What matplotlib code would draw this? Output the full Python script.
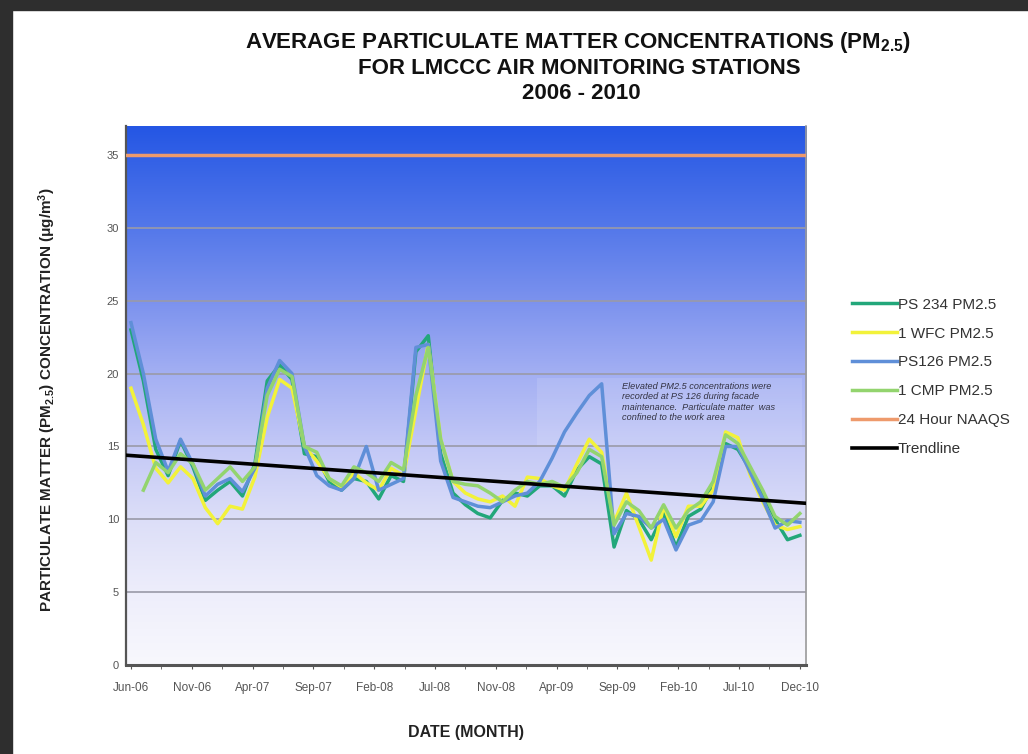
import numpy as np
import matplotlib
matplotlib.use('Agg')
import matplotlib.pyplot as plt
from matplotlib import font_manager
from matplotlib.colors import LinearSegmentedColormap
from matplotlib.patches import Rectangle

# monthly averages, Jun-06 .. Dec-10 (55 months)
ps234 = [23.0, 19.5, 14.8, 13.0, 15.4, 13.6, 11.3, 12.0, 12.6, 11.6,
         13.8, 19.5, 20.6, 19.6, 14.5, 14.3, 12.6, 12.0, 12.8, 12.6,
         11.4, 13.0, 12.6, 21.5, 22.6, 14.5, 11.8, 11.0, 10.4, 10.1,
         11.3, 11.8, 11.6, 12.3, 12.3, 11.6, 13.4, 14.3, 13.8, 8.1,
         10.6, 10.0, 8.6, 10.4, 8.1, 10.2, 10.7, 12.3, 15.2, 14.8,
         13.4, 11.8, 10.0, 8.6, 8.9]
wfc1 = [19.0, 16.5, 13.5, 12.5, 13.6, 12.8, 10.8, 9.7, 10.9, 10.7,
        12.9, 17.0, 19.6, 19.0, 15.0, 14.0, 12.8, 12.2, 13.2, 12.5,
        12.0, 13.5, 13.0, 17.5, 22.0, 15.5, 12.6, 11.8, 11.4, 11.2,
        11.6, 10.9, 12.9, 12.8, 12.3, 12.0, 13.8, 15.5, 14.6, 9.8,
        11.8, 9.5, 7.2, 10.9, 8.8, 10.9, 10.9, 12.0, 16.0, 15.6,
        13.0, 11.2, 9.6, 9.3, 9.5]
ps126 = [23.5, 20.0, 15.5, 13.3, 15.5, 13.8, 11.6, 12.4, 12.8, 11.9,
         13.5, 19.0, 20.9, 20.0, 15.0, 13.0, 12.3, 12.0, 12.8, 15.0,
         12.0, 12.4, 12.8, 21.8, 22.0, 14.0, 11.5, 11.2, 10.9, 10.8,
         11.2, 11.6, 11.8, 12.6, 14.2, 16.0, 17.3, 18.5, 19.3, 9.0,
         10.4, 10.2, 9.4, 10.0, 7.9, 9.6, 9.9, 11.2, 15.0, 15.0,
         13.2, 11.4, 9.4, 9.9, 9.8]
cmp1 = [np.nan, 12.0, 13.9, 13.2, 14.5, 13.8, 12.0, 12.8, 13.6, 12.6,
        13.6, 18.5, 20.3, 19.8, 15.0, 14.6, 12.8, 12.3, 13.6, 13.2,
        12.6, 13.9, 13.4, 18.5, 21.8, 15.5, 12.6, 12.4, 12.3, 11.8,
        11.2, 12.0, 12.6, 12.4, 12.6, 12.2, 13.2, 14.8, 14.3, 9.6,
        11.2, 10.6, 9.4, 11.0, 9.4, 10.6, 11.2, 12.6, 15.8, 15.2,
        13.6, 12.0, 10.2, 9.6, 10.4]
naaqs = 35
trend_ends = [14.4, 11.1]

tick_labels = ['Jun-06', 'Nov-06', 'Apr-07', 'Sep-07', 'Feb-08', 'Jul-08',
               'Nov-08', 'Apr-09', 'Sep-09', 'Feb-10', 'Jul-10', 'Dec-10']
series_names = ['PS 234 PM2.5', '1 WFC PM2.5', 'PS126 PM2.5', '1 CMP PM2.5']
series_colors = ['#22A77A', '#F2F23A', '#5F8FD8', '#93D46E']
note = ('Elevated PM2.5 concentrations were\n'
        'recorded at PS 126 during facade\n'
        'maintenance.  Particulate matter  was\n'
        'confined to the work area')


def has_font(name):
    try:
        font_manager.findfont(font_manager.FontProperties(family=name),
                              fallback_to_default=False)
        return True
    except ValueError:
        return False


narrow = has_font('Liberation Sans Narrow')
base = 'Liberation Sans'
plt.rcParams['font.family'] = [base, 'DejaVu Sans']
plt.rcParams['mathtext.fontset'] = 'custom'
plt.rcParams['mathtext.rm'] = base
plt.rcParams['mathtext.bf'] = base + ':bold'
plt.rcParams['mathtext.it'] = base + ':italic'

fig = plt.figure(figsize=(10.28, 7.54), dpi=100)
fig.patch.set_facecolor('white')

# dark slide frame
fig.add_artist(Rectangle((0, 0.987), 1, 0.013, transform=fig.transFigure,
                         color='#2E2E2E', zorder=0))
fig.add_artist(Rectangle((0, 0), 0.012, 1, transform=fig.transFigure,
                         color='#2E2E2E', zorder=0))

ax = fig.add_axes([0.1226, 0.118, 0.6615, 0.715])

x = np.arange(len(ps234))
xmin, xmax = -0.4, 54.5
ymax = 37.0

# gradient background
grad = LinearSegmentedColormap.from_list('bg', [
    (0.00, '#F8F8FD'), (0.13, '#EEEEFB'), (0.27, '#DCDEF8'),
    (0.40, '#C4C9F6'), (0.54, '#A3AFF3'), (0.67, '#7D93EE'),
    (0.81, '#5478EA'), (1.00, '#2456E4')])
ax.imshow(np.linspace(0, 1, 256).reshape(-1, 1), cmap=grad, origin='lower',
          aspect='auto', extent=[0, 1, 0, 1], transform=ax.transAxes,
          zorder=0)
ax.add_patch(Rectangle((0.604, 0.404), 0.39, 0.128, transform=ax.transAxes,
                       facecolor='white', alpha=0.12, edgecolor='none',
                       zorder=1))

for yv in range(5, 35, 5):
    ax.axhline(yv, color='#9A9AA8', lw=1.2, zorder=1)

for vals, name, col in zip([ps234, wfc1, ps126, cmp1], series_names, series_colors):
    ax.plot(x, vals, color=col, lw=2.5, label=name, zorder=3,
            solid_joinstyle='round')

ax.axhline(naaqs, color='#EE9A6C', lw=2.5, label='24 Hour NAAQS', zorder=3)
ax.plot([xmin, xmax], trend_ends, color='black', lw=2.6, label='Trendline',
        zorder=4)

ax.text(0.729, 0.525, note, transform=ax.transAxes, fontsize=6.6,
        style='italic', color='#333344', va='top', ha='left',
        linespacing=1.2, zorder=5)

ax.set_xlim(xmin, xmax)
ax.set_ylim(0, ymax)
ax.set_yticks(range(0, 40, 5))
ax.set_yticklabels([str(v) for v in range(0, 40, 5)])
major = np.linspace(0, 54, len(tick_labels))
ax.set_xticks(major)
ax.set_xticklabels(tick_labels)
ax.set_xticks((major[:-1] + major[1:]) / 2, minor=True)
ax.tick_params(axis='x', which='both', length=3, color='#555555',
               labelsize=8.5, labelcolor='#555555', pad=9)
ax.tick_params(axis='y', length=0, labelsize=8, labelcolor='#555555', pad=5)

for side in ['left', 'bottom']:
    ax.spines[side].set_color('#555555')
    ax.spines[side].set_linewidth(1.6)
ax.spines['bottom'].set_linewidth(2.2)
ax.spines['right'].set_color('#9A9A9A')
ax.spines['right'].set_linewidth(1.2)
ax.spines['top'].set_visible(False)

# titles
tfam = ['Liberation Sans Narrow', 'DejaVu Sans'] if narrow else [base, 'DejaVu Sans']
tsize = 19 if narrow else 16
fig.text(0.562, 0.943, r'AVERAGE PARTICULATE MATTER CONCENTRATIONS (PM$_{\mathbf{2.5}}$)',
         ha='center', va='center', fontsize=tsize, fontweight='bold',
         family=tfam, color='#111111')
fig.text(0.564, 0.909, 'FOR LMCCC AIR MONITORING STATIONS', ha='center',
         va='center', fontsize=tsize, fontweight='bold', family=tfam,
         color='#111111')
fig.text(0.565, 0.876, '2006 - 2010', ha='center', va='center',
         fontsize=tsize, fontweight='bold', family=tfam, color='#111111')

fig.text(0.046, 0.470,
         r'PARTICULATE MATTER (PM$_{\mathbf{2.5}}$) CONCENTRATION ($\mathbf{\mu}$g/m$^{\mathbf{3}}$)',
         rotation=90, ha='center', va='center', fontsize=11,
         fontweight='bold', color='#222222')
fig.text(0.453, 0.028, 'DATE (MONTH)', ha='center', va='center',
         fontsize=11.5, fontweight='bold', color='#222222')

fig.legend(loc='upper left', bbox_to_anchor=(0.829, 0.605), frameon=False,
           fontsize=11, handlelength=2.9, handletextpad=0.1,
           labelspacing=0.97, borderpad=0, borderaxespad=0,
           labelcolor='#333333')

fig.savefig('out.png', dpi=100)
